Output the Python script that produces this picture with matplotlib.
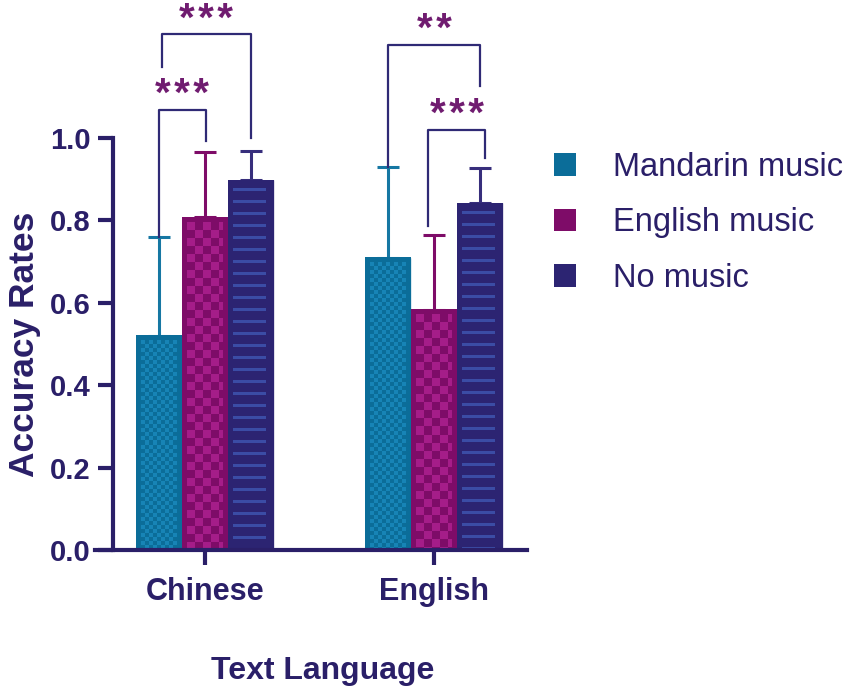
import numpy as np
import matplotlib.pyplot as plt
from matplotlib.patches import Patch

plt.rcParams['font.family'] = ['Liberation Sans', 'DejaVu Sans']

groups = ['Chinese', 'English']
conditions = ['Mandarin music', 'English music', 'No music']

# mean accuracy per text language (Chinese, English)
mandarin_mean = [0.520, 0.709]
english_mean = [0.808, 0.583]
nomusic_mean = [0.898, 0.842]
# upper error (sd)
mandarin_sd = [0.240, 0.221]
english_sd = [0.158, 0.182]
nomusic_sd = [0.070, 0.085]

TXT = '#2a1f68'
STAR = '#701c70'
LINE = '#2f2a75'
styles = {
    'Mandarin music': dict(base='#0b6d99', light='#1784b6', err='#1677a3', kind='fine'),
    'English music': dict(base='#7e0c68', light='#a51d89', err='#7e0c68', kind='check'),
    'No music': dict(base='#2c2472', light='#3b4ca5', err='#372e7c', kind='dash'),
}


def texture(kind, base, light, wpx, hpx):
    img = np.zeros((hpx, wpx, 3))
    img[:] = plt.matplotlib.colors.to_rgb(base)
    yy, xx = np.mgrid[0:hpx, 0:wpx]
    m = 5
    inner = (xx >= m) & (xx < wpx - m) & (yy >= m)
    if kind == 'fine':
        mask = inner & (((xx - m) // 4 + (yy - m) // 4) % 2 == 0)
    elif kind == 'check':
        mask = inner & (((xx - m) // 8 + (yy - m) // 8) % 2 == 0)
    else:
        mask = (xx >= 5) & (xx < wpx - 8) & ((yy - 8) % 12 < 3)
    img[mask] = plt.matplotlib.colors.to_rgb(light)
    return img


fig = plt.figure(figsize=(8.54, 6.92), dpi=100)
ax = fig.add_axes([95 / 854, 1 - 550 / 692, 432 / 854, 412 / 692])
ax.set_xlim(-0.480, 1.406)
ax.set_ylim(0, 1.0)
ax.set_autoscale_on(False)

x = np.arange(len(groups))
w = 0.2
means = [mandarin_mean, english_mean, nomusic_mean]
sds = [mandarin_sd, english_sd, nomusic_sd]
handles = []
for i, cond in enumerate(conditions):
    st = styles[cond]
    pos = x + (i - 1) * w
    bars = ax.bar(pos, means[i], width=w, color=st['base'], edgecolor='white',
                  linewidth=0.5, zorder=2)
    for b in bars:
        (x0, y0), (x1, y1) = ax.transData.transform(
            [(b.get_x(), 0), (b.get_x() + b.get_width(), b.get_height())])
        img = texture(st['kind'], st['base'], st['light'],
                      int(round(x1 - x0)), int(round(y1 - y0)))
        ax.imshow(img, extent=(b.get_x(), b.get_x() + b.get_width(), 0, b.get_height()),
                  aspect='auto', interpolation='nearest', zorder=2.5, clip_path=b)
    ax.errorbar(pos, means[i], yerr=[np.zeros(len(groups)), sds[i]], fmt='none',
                ecolor=st['err'], elinewidth=2.2, capsize=8, capthick=2.2, zorder=1)
    handles.append(Patch(facecolor=st['base'], edgecolor='none', label=cond))


def bracket(x1, x2, yl, yr, ytop, label, lx, ly):
    ax.plot([x1, x1, x2, x2], [yl, ytop, ytop, yr], color=LINE, lw=1.6,
            clip_on=False, zorder=3)
    ax.text(lx, ly, '\u200a'.join(label), ha='center', va='baseline', color=STAR,
            fontsize=29, fontweight='bold', clip_on=False)


bracket(-0.2, 0.004, 0.76, 0.993, 1.068, '***', -0.1, 1.078)
bracket(-0.188, 0.2, 1.172, 1.0, 1.252, '***', 0.005, 1.260)
bracket(0.8, 1.2, 0.93, 1.126, 1.226, '**', 1.0, 1.236)
bracket(0.974, 1.223, 0.786, 0.951, 1.019, '***', 1.10, 1.030)

for s in ['top', 'right']:
    ax.spines[s].set_visible(False)
ax.spines['left'].set_position(('data', -0.4017))
for s in ['left', 'bottom']:
    ax.spines[s].set_linewidth(3)
    ax.spines[s].set_color(TXT)
    ax.spines[s].set_capstyle('projecting')

ax.set_yticks(np.arange(0, 1.01, 0.2))
ax.set_yticklabels([f'{v:.1f}' for v in np.arange(0, 1.01, 0.2)])
ax.set_xticks(x)
ax.set_xticklabels(groups)
ax.tick_params(axis='both', direction='out', length=11, width=3, color=TXT,
               labelcolor=TXT, labelsize=21)
ax.tick_params(axis='y', pad=5)
ax.tick_params(axis='x', pad=8.5, labelsize=22)
for lab in ax.get_xticklabels() + ax.get_yticklabels():
    lab.set_fontweight('bold')

ax.set_ylabel('Accuracy Rates', fontsize=25.5, fontweight='bold', color=TXT)
ax.yaxis.set_label_coords(-0.125, 0.5)
ax.set_xlabel('Text Language', fontsize=23, fontweight='bold', color=TXT)
ax.xaxis.label.set_verticalalignment('baseline')
ax.xaxis.set_label_coords(0.528, -0.313)

ax.legend(handles=handles, loc='upper left', bbox_to_anchor=(554 / 854, 1 - 152 / 692),
          bbox_transform=fig.transFigure, frameon=False, fontsize=23.5,
          handlelength=0.67, handleheight=0.67, handletextpad=1.13,
          labelspacing=0.75, borderpad=0, borderaxespad=0, labelcolor=TXT)

fig.savefig('out.png', dpi=100)
